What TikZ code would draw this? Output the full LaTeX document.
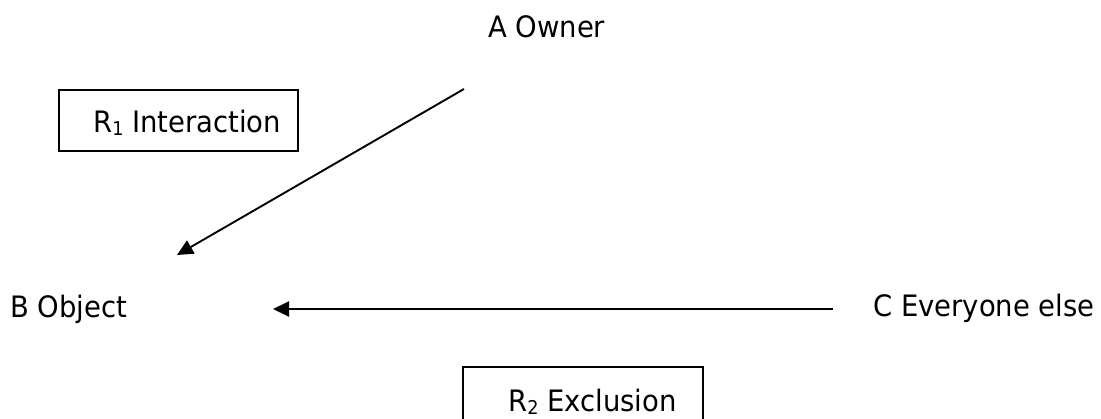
\documentclass[tikz,border=0pt]{standalone}
\usepackage{fontspec}
\setmainfont[FakeStretch=0.93]{DejaVu Sans}
\usetikzlibrary{arrows.meta}
% small lowered index digit
\newcommand{\relidx}[1]{\raisebox{-2.5pt}{\fontsize{19}{20}\selectfont #1}}
\begin{document}
\begin{tikzpicture}[x=1pt,y=-1pt,
  label text/.style={font=\fontsize{29.5}{34}\selectfont, inner sep=0pt, anchor=base west},
  relbox/.style={draw, line width=1.5pt},
  relation/.style={line width=1.9pt, -{Triangle[length=16pt,width=15pt]}}]
  \useasboundingbox (0,0) rectangle (1101,419);

  % parties
  \node[label text] (owner) at (488,38) {A Owner};
  \node[label text] (object) at (10,318) {B Object};
  \node[label text] (others) at (873,317) {C Everyone else};

  % relation labels in boxes
  \draw[relbox] (59,90) rectangle (298,151);
  \node[label text] (r1) at (93,133) {R\relidx{1} Interaction};
  \draw[relbox] (463,367) rectangle (703,445);
  \node[label text] (r2) at (508,412) {R\relidx{2} Exclusion};

  % arrow ends
  \coordinate (ownerEnd) at (464,89);
  \coordinate (objectTop) at (177,255);
  \coordinate (othersEnd) at (833,309);
  \coordinate (objectRight) at (273,309);

  \draw[relation] (ownerEnd) -- (objectTop);
  \draw[relation] (othersEnd) -- (objectRight);
\end{tikzpicture}
\end{document}
